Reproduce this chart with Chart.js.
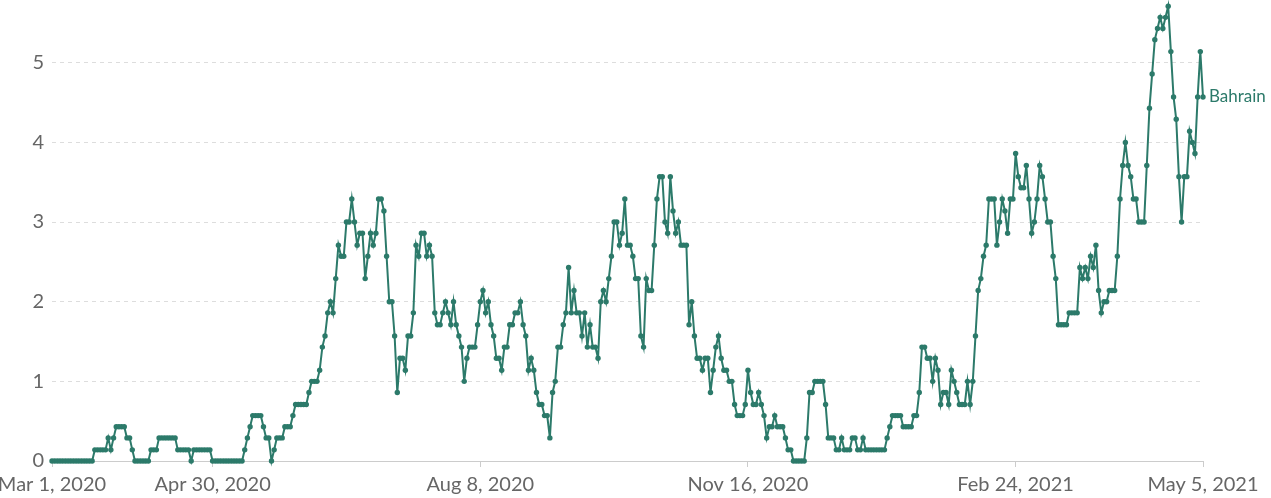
<!DOCTYPE html>
<html lang="en">
<head>
    <meta charset="UTF-8">
    <title>Bahrain</title>
    <script src="https://cdn.jsdelivr.net/npm/chart.js@4"></script>
    <style>
        body {
            margin: 0;
            background-color: #fff;
            overflow: hidden;
        }
        .chart-container {
            position: relative;
            width: 1271px;
            height: 498px;
        }
    </style>
</head>
<body>
    <div class="chart-container">
        <canvas id="bahrainChart" width="1271" height="498"></canvas>
    </div>

    <script>
        // x positions are day numbers counted from Mar 1, 2020
        const tickDays = [0, 60, 160, 260, 360, 430];
        const tickLabels = ['Mar 1, 2020', 'Apr 30, 2020', 'Aug 8, 2020', 'Nov 16, 2020', 'Feb 24, 2021', 'May 5, 2021'];
        const yTicks = [0, 1, 2, 3, 4, 5];
        const seriesName = 'Bahrain';

        // one value per day, Mar 1, 2020 .. May 5, 2021
        const bahrain = [
            0, 0, 0, 0, 0, 0, 0, 0, 0, 0,
            0, 0, 0, 0, 0, 0, 0.14, 0.14, 0.14, 0.14,
            0.14, 0.29, 0.14, 0.29, 0.43, 0.43, 0.43, 0.43, 0.29, 0.29,
            0.14, 0, 0, 0, 0, 0, 0, 0.14, 0.14, 0.14,
            0.29, 0.29, 0.29, 0.29, 0.29, 0.29, 0.29, 0.14, 0.14, 0.14,
            0.14, 0.14, 0, 0.14, 0.14, 0.14, 0.14, 0.14, 0.14, 0.14,
            0, 0, 0, 0, 0, 0, 0, 0, 0, 0,
            0, 0, 0.14, 0.29, 0.43, 0.57, 0.57, 0.57, 0.57, 0.43,
            0.29, 0.29, 0, 0.14, 0.29, 0.29, 0.29, 0.43, 0.43, 0.43,
            0.57, 0.71, 0.71, 0.71, 0.71, 0.71, 0.86, 1.0, 1.0, 1.0,
            1.14, 1.43, 1.57, 1.86, 2.0, 1.86, 2.29, 2.71, 2.57, 2.57,
            3.0, 3.0, 3.29, 3.0, 2.71, 2.86, 2.86, 2.29, 2.57, 2.86,
            2.71, 2.86, 3.29, 3.29, 3.14, 2.57, 2.0, 2.0, 1.57, 0.86,
            1.29, 1.29, 1.14, 1.57, 1.57, 1.86, 2.71, 2.57, 2.86, 2.86,
            2.57, 2.71, 2.57, 1.86, 1.71, 1.71, 1.86, 2.0, 1.86, 1.71,
            2.0, 1.71, 1.57, 1.43, 1.0, 1.29, 1.43, 1.43, 1.43, 1.71,
            2.0, 2.14, 1.86, 2.0, 1.71, 1.57, 1.29, 1.29, 1.14, 1.43,
            1.43, 1.71, 1.71, 1.86, 1.86, 2.0, 1.71, 1.57, 1.14, 1.29,
            1.14, 0.86, 0.71, 0.71, 0.57, 0.57, 0.29, 0.86, 1.0, 1.43,
            1.43, 1.71, 1.86, 2.43, 1.86, 2.14, 1.86, 1.86, 1.57, 1.86,
            1.43, 1.71, 1.43, 1.43, 1.29, 2.0, 2.14, 2.0, 2.29, 2.57,
            3.0, 3.0, 2.71, 2.86, 3.29, 2.71, 2.71, 2.57, 2.29, 2.29,
            1.57, 1.43, 2.29, 2.14, 2.14, 2.71, 3.29, 3.57, 3.57, 3.0,
            2.86, 3.57, 3.14, 2.86, 3.0, 2.71, 2.71, 2.71, 1.71, 2.0,
            1.57, 1.29, 1.29, 1.14, 1.29, 1.29, 0.86, 1.14, 1.43, 1.57,
            1.29, 1.14, 1.14, 1.0, 1.0, 0.71, 0.57, 0.57, 0.57, 0.71,
            1.14, 0.86, 0.71, 0.71, 0.86, 0.71, 0.57, 0.29, 0.43, 0.43,
            0.57, 0.43, 0.43, 0.43, 0.29, 0.14, 0.14, 0, 0, 0,
            0, 0, 0.29, 0.86, 0.86, 1.0, 1.0, 1.0, 1.0, 0.71,
            0.29, 0.29, 0.29, 0.14, 0.14, 0.29, 0.14, 0.14, 0.14, 0.29,
            0.29, 0.14, 0.14, 0.29, 0.14, 0.14, 0.14, 0.14, 0.14, 0.14,
            0.14, 0.14, 0.29, 0.43, 0.57, 0.57, 0.57, 0.57, 0.43, 0.43,
            0.43, 0.43, 0.57, 0.57, 0.86, 1.43, 1.43, 1.29, 1.29, 1.0,
            1.29, 1.14, 0.71, 0.86, 0.86, 0.71, 1.14, 1.0, 0.86, 0.71,
            0.71, 0.71, 1.0, 0.71, 1.0, 1.57, 2.14, 2.29, 2.57, 2.71,
            3.29, 3.29, 3.29, 2.71, 3.0, 3.29, 3.14, 2.86, 3.29, 3.29,
            3.86, 3.57, 3.43, 3.43, 3.71, 3.29, 2.86, 3.0, 3.29, 3.71,
            3.57, 3.29, 3.0, 3.0, 2.57, 2.29, 1.71, 1.71, 1.71, 1.71,
            1.86, 1.86, 1.86, 1.86, 2.43, 2.29, 2.43, 2.29, 2.57, 2.43,
            2.71, 2.14, 1.86, 2.0, 2.0, 2.14, 2.14, 2.14, 2.57, 3.29,
            3.71, 4.0, 3.71, 3.57, 3.29, 3.29, 3.0, 3.0, 3.0, 3.71,
            4.43, 4.86, 5.29, 5.43, 5.57, 5.43, 5.57, 5.71, 5.14, 4.57,
            4.29, 3.57, 3.0, 3.57, 3.57, 4.14, 4.0, 3.86, 4.57, 5.14,
            4.57
        ];

        const lineColor = '#2c7a6a';
        const textColor = '#666';

        // name next to the last point, like the original
        const endLabel = {
            id: 'endLabel',
            afterDatasetsDraw(chart) {
                const meta = chart.getDatasetMeta(0);
                const last = meta.data[meta.data.length - 1];
                const ctx = chart.ctx;
                ctx.save();
                ctx.font = '17px Lato, sans-serif';
                ctx.fillStyle = lineColor;
                ctx.textAlign = 'left';
                ctx.textBaseline = 'middle';
                ctx.fillText(seriesName, last.x + 6, last.y);
                ctx.restore();
            }
        };

        const ctx = document.getElementById('bahrainChart').getContext('2d');
        const chart = new Chart(ctx, {
            type: 'line',
            data: {
                datasets: [{
                    label: seriesName,
                    data: bahrain.map((v, i) => ({ x: i, y: v })),
                    borderColor: lineColor,
                    backgroundColor: lineColor,
                    borderWidth: 2,
                    pointRadius: 2.7,
                    pointHoverRadius: 3,
                    pointBorderWidth: 0,
                    tension: 0,
                    clip: false
                }]
            },
            options: {
                responsive: false,
                animation: false,
                layout: {
                    padding: { left: 0, right: 68, top: 0, bottom: 0 }
                },
                plugins: {
                    legend: { display: false },
                    tooltip: { enabled: false }
                },
                scales: {
                    x: {
                        type: 'linear',
                        min: 0,
                        max: 430,
                        afterBuildTicks: function(scale) {
                            scale.ticks = tickDays.map(v => ({ value: v }));
                        },
                        afterFit: function(scale) {
                            scale.height = 37;
                            scale.paddingLeft = 0;
                            scale.paddingRight = 0;
                        },
                        ticks: {
                            autoSkip: false,
                            maxRotation: 0,
                            padding: 6,
                            color: textColor,
                            font: { family: 'Lato', size: 20 },
                            callback: function(value) {
                                return tickLabels[tickDays.indexOf(value)];
                            }
                        },
                        grid: {
                            drawOnChartArea: false,
                            drawTicks: true,
                            tickLength: 6,
                            color: '#ccc'
                        },
                        border: { display: true, color: '#ccc' }
                    },
                    y: {
                        min: 0,
                        max: 5.75,
                        afterBuildTicks: function(scale) {
                            scale.ticks = yTicks.map(v => ({ value: v }));
                        },
                        afterFit: function(scale) {
                            scale.width = 52;
                            scale.paddingTop = 0;
                            scale.paddingBottom = 0;
                        },
                        ticks: {
                            padding: 8,
                            color: textColor,
                            font: { family: 'Lato', size: 20 }
                        },
                        grid: {
                            drawTicks: false,
                            lineWidth: 1,
                            color: function(c) {
                                return c.tick && c.tick.value === 0 ? 'rgba(0,0,0,0)' : '#ddd';
                            }
                        },
                        border: { display: false, dash: [4, 4] }
                    }
                }
            },
            plugins: [endLabel]
        });
    </script>
</body>
</html>
